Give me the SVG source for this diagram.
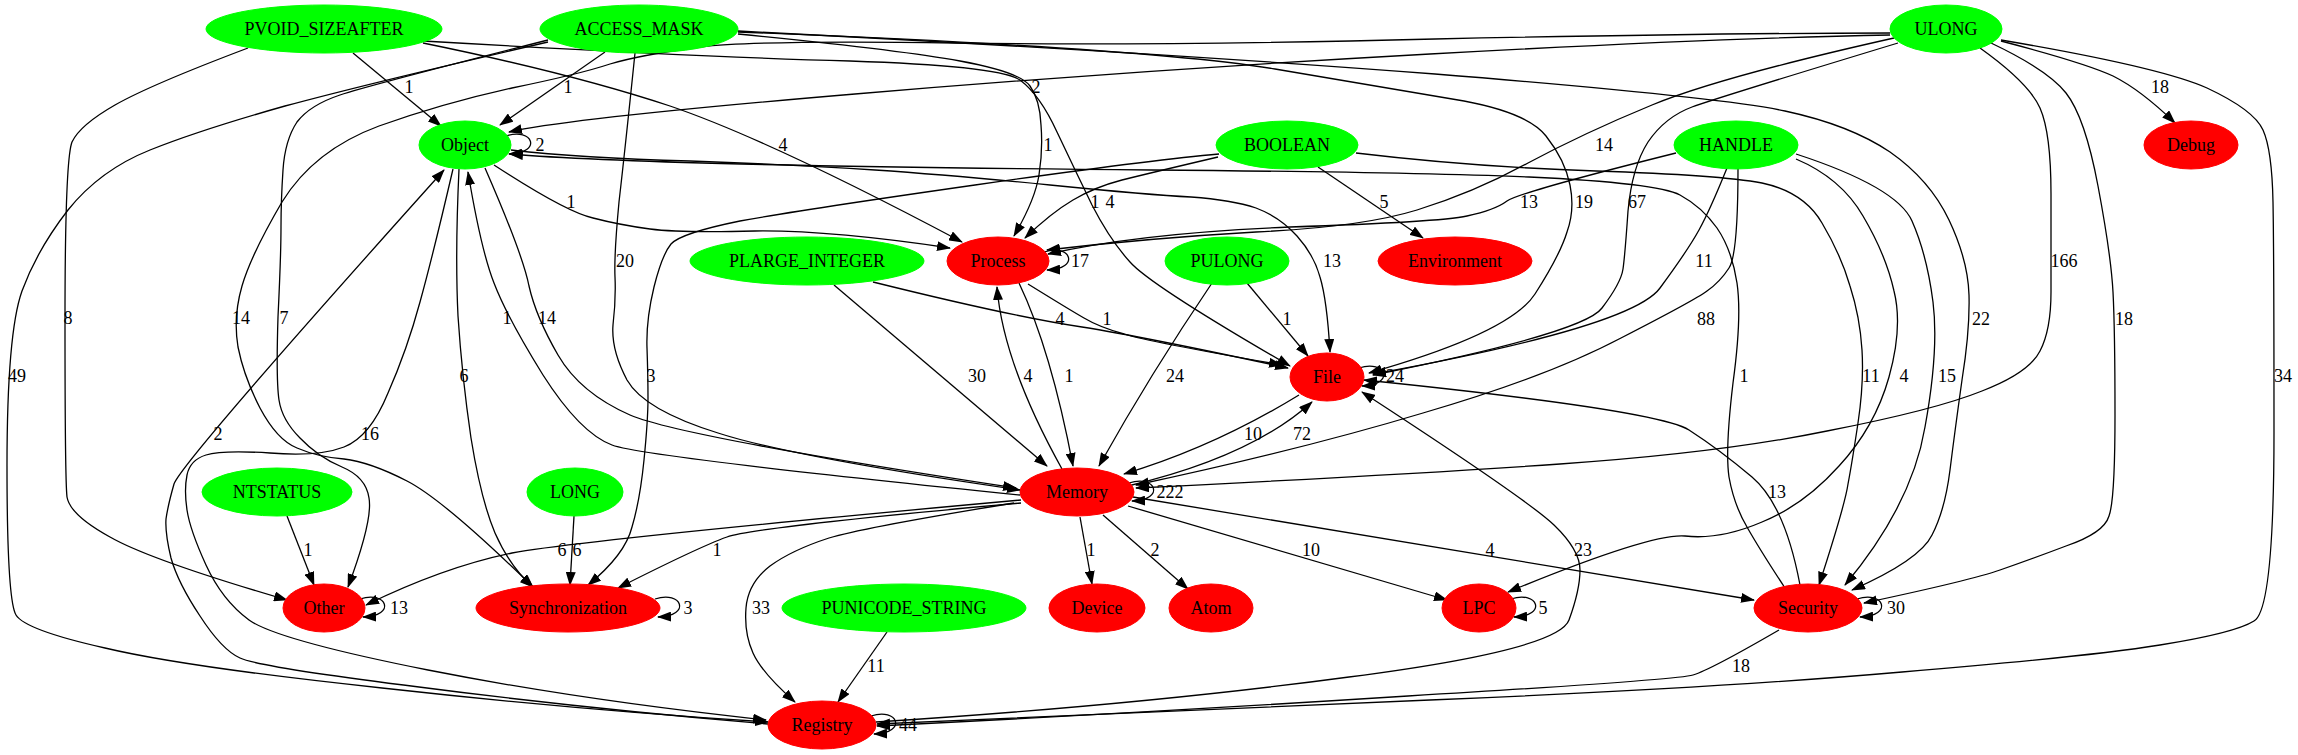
<svg xmlns="http://www.w3.org/2000/svg" width="2298" height="755" viewBox="0 0 2298 755">
<defs>
<marker id="ah" markerWidth="14" markerHeight="10" refX="13" refY="5" orient="auto" markerUnits="userSpaceOnUse"><path d="M0,0 L14,5 L0,10 z" fill="#000"/></marker>
<style>
.e{fill:none;stroke:#000;stroke-width:1.3;marker-end:url(#ah)}
text{font-family:"Liberation Serif",Times,serif;font-size:18px;fill:#000}
.n text,.l{text-anchor:middle}
.g{fill:#00ff00;stroke:#00ff00}
.r{fill:#ff0000;stroke:#ff0000}
</style>
</defs>
<rect width="2298" height="755" fill="#fff"/>
<g id="edges">
<path class="e" d="M353,53 L441,126"/>
<path class="e" d="M248,48 Q150,85 115,105 Q80,125 72,142 Q65,160 65,320 Q65,480 67,497 Q70,515 110,537 Q150,560 287,600"/>
<path class="e" d="M423,43 Q570,73 670,106 Q770,140 962,242"/>
<path class="e" d="M423,41 Q700,57 850,61 Q1000,66 1020,80 Q1040,95 1057,132 Q1075,170 1092,205 Q1110,240 1130,262 Q1150,285 1290,366"/>
<path class="e" d="M605,52 L500,125"/>
<path class="e" d="M738,34 Q900,50 960,61 Q1020,72 1030,86 Q1040,100 1041,125 Q1043,150 1039,175 Q1035,200 1014,236"/>
<path class="e" d="M738,32 Q1150,48 1275,69 Q1400,90 1464,101 Q1528,113 1546,136 Q1565,160 1570,185 Q1575,210 1567,232 Q1560,255 1535,294 Q1510,333 1369,373"/>
<path class="e" d="M738,31 Q1150,52 1435,74 Q1720,97 1785,111 Q1850,125 1890,152 Q1930,180 1949,220 Q1968,260 1969,295 Q1970,330 1962,380 Q1955,430 1950,470 Q1945,510 1932,535 Q1920,560 1852,590"/>
<path class="e" d="M635,53 Q625,150 619,202 Q614,255 615,277 Q616,300 613,325 Q611,350 627,380 Q644,410 718,433 Q792,457 1020,490"/>
<path class="e" d="M548,42 Q370,83 285,106 Q200,130 150,150 Q100,170 68,210 Q37,250 22,291 Q7,333 7,466 Q7,600 16,615 Q25,630 105,648 Q185,667 382,688 Q580,710 768,722"/>
<path class="e" d="M548,40 Q370,85 340,95 Q310,105 297,122 Q285,140 283,170 Q281,200 281,227 Q281,255 278,317 Q276,380 279,400 Q282,420 300,438 Q318,457 342,467 Q366,477 369,498 Q373,520 348,587"/>
<path class="e" d="M1890,35 Q1720,38 1430,54 Q1140,70 855,94 Q570,118 509,132"/>
<path class="e" d="M1890,33 Q1720,33 1435,39 Q1150,46 955,43 Q760,40 700,47 Q640,55 610,64 Q580,74 512,88 Q444,103 379,126 Q314,150 282,202 Q251,255 242,286 Q233,317 238,347 Q244,377 260,408 Q277,440 297,448 Q318,457 344,459 Q370,462 407,481 Q444,500 533,587"/>
<path class="e" d="M1894,38 Q1720,77 1652,105 Q1584,133 1528,163 Q1473,193 1417,210 Q1362,227 1256,232 Q1150,238 1047,250"/>
<path class="e" d="M1676,153 Q1520,192 1507,201 Q1495,210 1467,216 Q1440,222 1290,227 Q1140,233 1048,254"/>
<path class="e" d="M1898,43 Q1720,97 1692,107 Q1665,117 1648,142 Q1632,167 1628,211 Q1625,255 1623,269 Q1621,283 1602,308 Q1584,333 1373,375"/>
<path class="e" d="M2001,41 Q2085,63 2113,76 Q2141,90 2175,123"/>
<path class="e" d="M1980,48 Q2029,83 2040,108 Q2051,133 2051,194 Q2051,255 2051,292 Q2051,330 2040,351 Q2029,373 1982,391 Q1935,410 1827,431 Q1720,453 1560,464 Q1400,475 1136,488"/>
<path class="e" d="M1991,43 Q2048,70 2066,93 Q2085,117 2098,186 Q2111,255 2113,292 Q2115,330 2115,415 Q2115,500 2109,516 Q2104,533 2066,546 Q2029,560 2000,570 Q1972,580 1864,603"/>
<path class="e" d="M2001,40 Q2160,67 2207,88 Q2254,110 2263,130 Q2272,150 2273,202 Q2274,255 2274,432 Q2274,610 2254,621 Q2235,633 2160,645 Q2085,657 1902,672 Q1720,688 1430,700 Q1140,713 877,724"/>
<path class="e" d="M1218,157 Q1150,173 1122,180 Q1095,187 1073,200 Q1051,213 1025,238"/>
<path class="e" d="M1318,167 L1423,238"/>
<path class="e" d="M1219,154 Q1150,160 975,185 Q800,210 740,221 Q681,233 671,244 Q662,255 654,287 Q646,320 647,348 Q648,377 648,398 Q648,420 644,460 Q640,500 632,527 Q625,555 588,585"/>
<path class="e" d="M1356,153 Q1473,167 1596,171 Q1720,175 1762,183 Q1804,192 1822,223 Q1841,255 1850,286 Q1860,317 1862,350 Q1864,383 1858,423 Q1852,463 1848,484 Q1845,505 1819,585"/>
<path class="e" d="M1785,588 Q1760,550 1747,527 Q1734,505 1729,477 Q1725,450 1733,383 Q1742,317 1737,283 Q1732,250 1717,228 Q1702,207 1680,195 Q1658,183 1529,177 Q1400,172 1151,170 Q903,168 741,164 Q580,160 510,154"/>
<path class="e" d="M511,150 Q580,158 690,161 Q800,165 875,170 Q950,175 1050,185 Q1150,195 1191,197 Q1232,200 1256,208 Q1280,217 1297,236 Q1314,255 1320,277 Q1327,300 1330,352"/>
<path class="e" d="M494,165 Q566,212 593,218 Q620,225 650,229 Q681,233 755,231 Q829,230 950,248"/>
<path class="e" d="M1727,168 Q1710,210 1699,230 Q1688,250 1660,288 Q1632,327 1373,374"/>
<path class="e" d="M1738,168 Q1738,255 1729,268 Q1720,282 1707,291 Q1695,300 1621,338 Q1547,377 1423,413 Q1300,450 1136,485"/>
<path class="e" d="M1796,159 Q1841,178 1863,216 Q1886,255 1894,291 Q1903,327 1889,377 Q1875,427 1839,466 Q1804,505 1762,522 Q1720,540 1685,536 Q1651,533 1508,592"/>
<path class="e" d="M1796,154 Q1897,187 1912,221 Q1927,255 1933,302 Q1939,350 1925,427 Q1912,505 1845,585"/>
<path class="e" d="M834,285 L1047,466"/>
<path class="e" d="M873,282 Q1014,317 1082,327 Q1150,338 1288,368"/>
<path class="e" d="M1028,284 Q1070,310 1084,318 Q1099,327 1124,334 Q1150,342 1282,365"/>
<path class="e" d="M1019,283 Q1051,350 1073,466"/>
<path class="e" d="M1062,469 Q1003,363 997,287"/>
<path class="e" d="M1247,283 L1308,356"/>
<path class="e" d="M1212,283 Q1151,373 1099,466"/>
<path class="e" d="M1299,395 Q1214,447 1124,474"/>
<path class="e" d="M1128,486 Q1251,457 1312,402"/>
<path class="e" d="M1800,585 Q1785,505 1752,477 Q1720,450 1689,430 Q1658,410 1364,380"/>
<path class="e" d="M876,722 Q1140,705 1349,677 Q1558,650 1569,620 Q1580,590 1580,570 Q1580,550 1554,525 Q1528,500 1362,392"/>
<path class="e" d="M1021,500 Q580,540 512,553 Q444,567 366,605"/>
<path class="e" d="M1021,503 Q755,527 727,537 Q699,547 618,588"/>
<path class="e" d="M1014,503 Q866,527 829,538 Q792,550 770,566 Q748,583 746,608 Q744,633 753,653 Q762,673 795,702"/>
<path class="e" d="M1080,517 L1092,584"/>
<path class="e" d="M1103,515 L1188,589"/>
<path class="e" d="M1128,506 L1447,600"/>
<path class="e" d="M1133,497 L1754,600"/>
<path class="e" d="M287,516 L314,585"/>
<path class="e" d="M574,516 L570,585"/>
<path class="e" d="M459,169 Q455,255 458,316 Q462,377 471,438 Q481,500 495,533 Q510,567 533,587"/>
<path class="e" d="M485,168 Q523,255 529,286 Q536,317 558,355 Q580,393 630,415 Q681,437 1016,488"/>
<path class="e" d="M1020,495 Q644,457 612,445 Q580,433 543,375 Q507,317 494,283 Q481,250 468,172"/>
<path class="e" d="M453,169 Q433,255 420,302 Q407,350 388,393 Q370,437 344,447 Q318,457 270,453 Q222,450 206,455 Q190,460 187,475 Q184,490 187,510 Q190,530 206,565 Q222,600 249,620 Q277,640 428,670 Q580,700 766,720"/>
<path class="e" d="M768,724 Q580,708 419,687 Q259,667 240,658 Q222,650 200,616 Q178,583 171,558 Q165,533 166,519 Q168,505 174,484 Q181,463 444,170"/>
<path class="e" d="M887,632 L838,702"/>
<path class="e" d="M1779,630 Q1710,670 1693,675 Q1676,680 1408,696 Q1140,713 877,726"/>
<path class="e" d="M506,136 C533,127 543,153 509,154"/>
<path class="e" d="M1044,252 C1071,243 1081,269 1047,270"/>
<path class="e" d="M1359,368 C1386,359 1396,385 1362,386"/>
<path class="e" d="M1129,483 C1156,474 1166,500 1132,501"/>
<path class="e" d="M360,599 C387,590 397,616 363,617"/>
<path class="e" d="M655,599 C682,590 692,616 658,617"/>
<path class="e" d="M1511,599 C1538,590 1548,616 1514,617"/>
<path class="e" d="M1857,599 C1884,590 1894,616 1860,617"/>
<path class="e" d="M871,716 C898,707 908,733 874,734"/>
<g class="l">
<text x="409" y="93">1</text>
<text x="68" y="324">8</text>
<text x="783" y="151">4</text>
<text x="1110" y="208">4</text>
<text x="568" y="93">1</text>
<text x="1048" y="151">1</text>
<text x="1584" y="208">19</text>
<text x="1981" y="325">22</text>
<text x="625" y="267">20</text>
<text x="17" y="382">49</text>
<text x="284" y="324">7</text>
<text x="1036" y="93">2</text>
<text x="241" y="324">14</text>
<text x="1604" y="151">14</text>
<text x="1529" y="208">13</text>
<text x="1637" y="208">67</text>
<text x="2160" y="93">18</text>
<text x="2064" y="267">166</text>
<text x="2124" y="325">18</text>
<text x="2283" y="382">34</text>
<text x="1095" y="208">1</text>
<text x="1384" y="208">5</text>
<text x="651" y="382">3</text>
<text x="1871" y="382">11</text>
<text x="1744" y="382">1</text>
<text x="1332" y="267">13</text>
<text x="571" y="208">1</text>
<text x="1704" y="267">11</text>
<text x="1706" y="325">88</text>
<text x="1904" y="382">4</text>
<text x="1947" y="382">15</text>
<text x="977" y="382">30</text>
<text x="1060" y="325">4</text>
<text x="1107" y="325">1</text>
<text x="1069" y="382">1</text>
<text x="1028" y="382">4</text>
<text x="1287" y="325">1</text>
<text x="1175" y="382">24</text>
<text x="1253" y="440">10</text>
<text x="1302" y="440">72</text>
<text x="1777" y="498">13</text>
<text x="1583" y="556">23</text>
<text x="562" y="556">6</text>
<text x="717" y="556">1</text>
<text x="761" y="614">33</text>
<text x="1091" y="556">1</text>
<text x="1155" y="556">2</text>
<text x="1311" y="556">10</text>
<text x="1490" y="556">4</text>
<text x="308" y="556">1</text>
<text x="577" y="556">6</text>
<text x="464" y="382">6</text>
<text x="547" y="324">14</text>
<text x="507" y="324">1</text>
<text x="370" y="440">16</text>
<text x="218" y="440">2</text>
<text x="876" y="672">11</text>
<text x="1741" y="672">18</text>
<text x="540" y="151">2</text>
<text x="1080" y="267">17</text>
<text x="1395" y="382">24</text>
<text x="1170" y="498">222</text>
<text x="399" y="614">13</text>
<text x="688" y="614">3</text>
<text x="1543" y="614">5</text>
<text x="1896" y="614">30</text>
<text x="908" y="731">44</text>
</g>
</g>
<g id="n-PVOID_SIZEAFTER" class="n"><ellipse class="g" cx="324" cy="29" rx="118" ry="24"/><text x="324" y="35">PVOID_SIZEAFTER</text></g>
<g id="n-ACCESS_MASK" class="n"><ellipse class="g" cx="639" cy="29" rx="99" ry="24"/><text x="639" y="35">ACCESS_MASK</text></g>
<g id="n-ULONG" class="n"><ellipse class="g" cx="1946" cy="29" rx="56" ry="24"/><text x="1946" y="35">ULONG</text></g>
<g id="n-Object" class="n"><ellipse class="g" cx="465" cy="145" rx="46" ry="24"/><text x="465" y="151">Object</text></g>
<g id="n-BOOLEAN" class="n"><ellipse class="g" cx="1287" cy="145" rx="71" ry="24"/><text x="1287" y="151">BOOLEAN</text></g>
<g id="n-HANDLE" class="n"><ellipse class="g" cx="1736" cy="145" rx="62" ry="24"/><text x="1736" y="151">HANDLE</text></g>
<g id="n-Debug" class="n"><ellipse class="r" cx="2191" cy="145" rx="47" ry="24"/><text x="2191" y="151">Debug</text></g>
<g id="n-PLARGE_INTEGER" class="n"><ellipse class="g" cx="807" cy="261" rx="117" ry="24"/><text x="807" y="267">PLARGE_INTEGER</text></g>
<g id="n-Process" class="n"><ellipse class="r" cx="998" cy="261" rx="51" ry="24"/><text x="998" y="267">Process</text></g>
<g id="n-PULONG" class="n"><ellipse class="g" cx="1227" cy="261" rx="62" ry="24"/><text x="1227" y="267">PULONG</text></g>
<g id="n-Environment" class="n"><ellipse class="r" cx="1455" cy="261" rx="77" ry="24"/><text x="1455" y="267">Environment</text></g>
<g id="n-File" class="n"><ellipse class="r" cx="1327" cy="377" rx="37" ry="24"/><text x="1327" y="383">File</text></g>
<g id="n-NTSTATUS" class="n"><ellipse class="g" cx="277" cy="492" rx="75" ry="24"/><text x="277" y="498">NTSTATUS</text></g>
<g id="n-LONG" class="n"><ellipse class="g" cx="575" cy="492" rx="48" ry="24"/><text x="575" y="498">LONG</text></g>
<g id="n-Memory" class="n"><ellipse class="r" cx="1077" cy="492" rx="57" ry="24"/><text x="1077" y="498">Memory</text></g>
<g id="n-Other" class="n"><ellipse class="r" cx="324" cy="608" rx="41" ry="24"/><text x="324" y="614">Other</text></g>
<g id="n-Synchronization" class="n"><ellipse class="r" cx="568" cy="608" rx="92" ry="24"/><text x="568" y="614">Synchronization</text></g>
<g id="n-PUNICODE_STRING" class="n"><ellipse class="g" cx="904" cy="608" rx="122" ry="24"/><text x="904" y="614">PUNICODE_STRING</text></g>
<g id="n-Device" class="n"><ellipse class="r" cx="1097" cy="608" rx="48" ry="24"/><text x="1097" y="614">Device</text></g>
<g id="n-Atom" class="n"><ellipse class="r" cx="1211" cy="608" rx="42" ry="24"/><text x="1211" y="614">Atom</text></g>
<g id="n-LPC" class="n"><ellipse class="r" cx="1479" cy="608" rx="37" ry="24"/><text x="1479" y="614">LPC</text></g>
<g id="n-Security" class="n"><ellipse class="r" cx="1808" cy="608" rx="54" ry="24"/><text x="1808" y="614">Security</text></g>
<g id="n-Registry" class="n"><ellipse class="r" cx="822" cy="725" rx="54" ry="24"/><text x="822" y="731">Registry</text></g>
</svg>
